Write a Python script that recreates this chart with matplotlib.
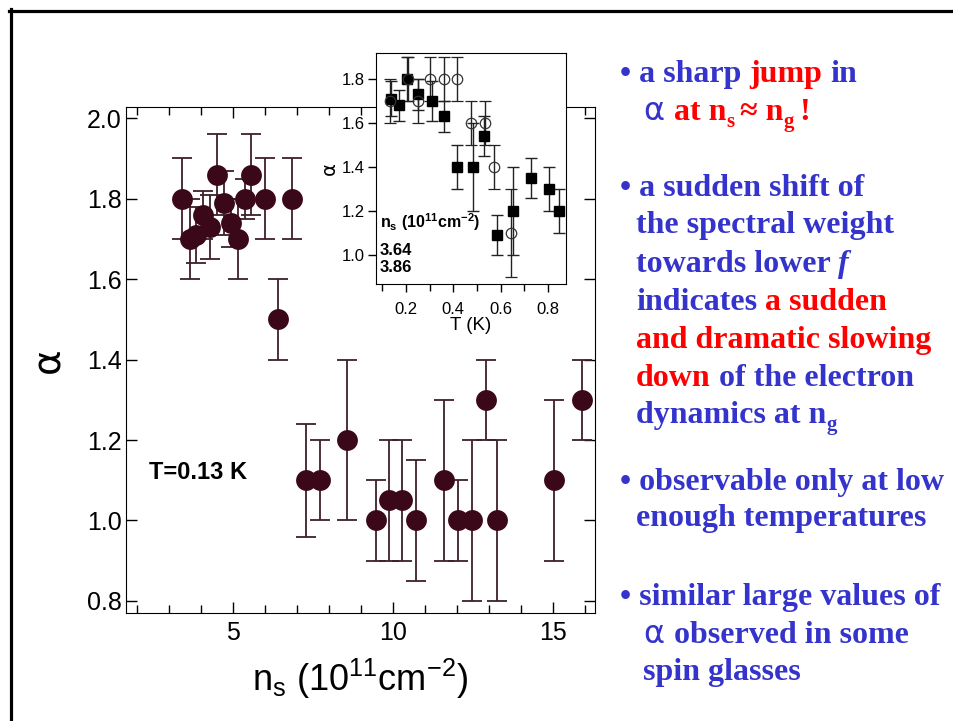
import matplotlib
matplotlib.use("Agg")
import matplotlib.pyplot as plt
import matplotlib.transforms as mtrans
from matplotlib.font_manager import FontProperties
from matplotlib.lines import Line2D
from matplotlib.ticker import MultipleLocator

# main panel: alpha vs density at T = 0.13 K
ns = [3.43, 3.66, 3.86, 4.07, 4.30, 4.52, 4.73, 4.96, 5.17, 5.37, 5.56, 6.01,
      6.43, 6.86, 7.30, 7.72, 8.58, 9.47, 9.88, 10.30, 10.74, 11.59, 12.04,
      12.48, 12.90, 13.27, 15.03, 15.92]
alpha = [1.80, 1.70, 1.71, 1.76, 1.73, 1.86, 1.79, 1.74, 1.70, 1.80, 1.86, 1.80,
         1.50, 1.80, 1.10, 1.10, 1.20, 1.00, 1.05, 1.05, 1.00, 1.10, 1.00,
         1.00, 1.30, 1.00, 1.10, 1.30]
alpha_err = [0.10, 0.10, 0.07, 0.06, 0.08, 0.10, 0.08, 0.06, 0.10, 0.05, 0.10, 0.10,
             0.10, 0.10, 0.14, 0.10, 0.20, 0.10, 0.15, 0.15, 0.15, 0.20, 0.10,
             0.20, 0.10, 0.20, 0.20, 0.10]

# inset: alpha vs temperature for two densities
T_sq = [0.135, 0.172, 0.203, 0.252, 0.309, 0.361, 0.417, 0.485, 0.529, 0.584,
        0.650, 0.728, 0.804, 0.845]
alpha_sq = [1.71, 1.68, 1.80, 1.73, 1.70, 1.63, 1.40, 1.40, 1.54, 1.09,
            1.20, 1.35, 1.30, 1.20]
err_sq = [0.08, 0.07, 0.10, 0.07, 0.09, 0.07, 0.10, 0.20, 0.09, 0.09,
          0.20, 0.09, 0.10, 0.10]
T_circ = [0.132, 0.210, 0.249, 0.302, 0.361, 0.415, 0.474, 0.532, 0.570, 0.643]
alpha_circ = [1.70, 1.80, 1.70, 1.80, 1.80, 1.80, 1.60, 1.60, 1.40, 1.10]
err_circ = [0.10, 0.10, 0.10, 0.10, 0.10, 0.10, 0.10, 0.10, 0.10, 0.20]
inset_densities = ["3.64", "3.86"]

plt.rcParams['font.family'] = ['Liberation Sans', 'DejaVu Sans']
plt.rcParams['mathtext.default'] = 'regular'

W, H = 954, 721
fig = plt.figure(figsize=(W / 100, H / 100), dpi=100)
PIX = mtrans.IdentityTransform()


def px_rect(left, top, right, bottom):
    return [left / W, 1 - bottom / H, (right - left) / W, (bottom - top) / H]


DOT = '#3a0818'
BAR = '#3e2029'

ax = fig.add_axes(px_rect(126, 107, 595, 613))
ax.errorbar(ns, alpha, yerr=alpha_err, fmt='o', ms=15, color=DOT, mec='none',
            ecolor=BAR, elinewidth=1.3, capsize=7.2, capthick=1.3, clip_on=False)
ax.set_xlim(1.666, 16.32)
ax.set_ylim(0.77, 2.028)
ax.xaxis.set_major_locator(MultipleLocator(5))
ax.xaxis.set_minor_locator(MultipleLocator(1))
ax.yaxis.set_major_locator(MultipleLocator(0.2))
ax.yaxis.set_major_formatter(plt.FormatStrFormatter('%.1f'))
ax.tick_params(which='both', direction='in', top=True, right=True, width=1)
ax.tick_params(which='major', length=8)
ax.tick_params(which='minor', length=6)
ax.tick_params(axis='x', labelsize=18, pad=6)
ax.tick_params(axis='y', labelsize=18, pad=3)
ax.set_xlabel(r'n$_s$ (10$^{11}$cm$^{-2}$)', fontsize=26, labelpad=8)
ax.set_ylabel('α', fontsize=28, family='DejaVu Sans', rotation=90)
ax.yaxis.set_label_coords(-0.125, 0.5)
ax.text(0.05, 0.265, 'T=0.13 K', transform=ax.transAxes, fontsize=17,
        fontweight='bold')

# inset
ax2 = fig.add_axes(px_rect(376, 53, 566, 284))
ax2.errorbar(T_sq, alpha_sq, yerr=err_sq, fmt='s', ms=6.5, color='black',
             ecolor='#222222', elinewidth=1, capsize=4.5, capthick=1)
ax2.errorbar(T_circ, alpha_circ, yerr=err_circ, fmt='o', ms=7.5, mfc='none',
             mec='#333333', mew=0.9, ecolor='#222222', elinewidth=1,
             capsize=4.5, capthick=1)
ax2.set_xlim(0.073, 0.876)
ax2.set_ylim(0.867, 1.918)
ax2.xaxis.set_major_locator(MultipleLocator(0.2))
ax2.xaxis.set_minor_locator(MultipleLocator(0.1))
ax2.yaxis.set_major_locator(MultipleLocator(0.2))
ax2.yaxis.set_major_formatter(plt.FormatStrFormatter('%.1f'))
ax2.tick_params(which='both', direction='out', width=1, labelsize=12)
ax2.tick_params(which='major', length=6)
ax2.tick_params(which='minor', length=5)
ax2.tick_params(axis='x', pad=7)
ax2.tick_params(axis='y', pad=2)
ax2.set_xlabel('T (K)', fontsize=13.5, labelpad=0)
ax2.set_ylabel('α', fontsize=14, family='DejaVu Sans', labelpad=2, rotation=90)
ax2.text(0.02, 0.244, r'n$_s$ (10$^{11}$cm$^{-2}$)', transform=ax2.transAxes,
         fontsize=11.5, fontweight='bold')
for k, label in enumerate(inset_densities):
    ax2.text(0.02, 0.127 - 0.074 * k, label, transform=ax2.transAxes,
             fontsize=12, fontweight='bold')

# slide frame
fig.add_artist(Line2D([9, W], [H - 10.5, H - 10.5], transform=PIX,
                      color='black', lw=2.3))
fig.add_artist(Line2D([10.5, 10.5], [0, H - 9], transform=PIX,
                      color='black', lw=2.3))

# bullet text on the right
BLUE = '#3434cc'
RED = '#ff0000'
FONTS = {
    'b': FontProperties(family='Liberation Serif', weight='bold', size=23),
    'bi': FontProperties(family='Liberation Serif', weight='bold',
                         style='italic', size=23),
    'sub': FontProperties(family='Liberation Serif', weight='bold', size=15),
    'sym': FontProperties(family='DejaVu Sans', size=23),
}
SHIFT = {'sub': -7}

renderer = fig.canvas.get_renderer()


def width_of(s, kind):
    w, _, _ = renderer.get_text_width_height_descent(s, FONTS[kind], ismath=False)
    return w


def draw_line(x, y, parts):
    # a part with a leading blank is drawn without it; the blank is measured
    # in the font of the part before
    for i, (s, color, kind) in enumerate(parts):
        s = s.lstrip() if i else s
        fig.text(x, H - y + SHIFT.get(kind, 0), s, transform=PIX, color=color,
                 fontproperties=FONTS[kind])
        if i + 1 < len(parts):
            sep = ' ' if parts[i + 1][0].startswith(' ') else ''
            x += width_of(s + sep + 'x', kind) - width_of('x', kind)


lines = [
    (620, 82, [('• a sharp', BLUE, 'b'), (' jump', RED, 'b'), (' in', BLUE, 'b')]),
    (643, 120, [('α', BLUE, 'sym'), (' at n', RED, 'b'), ('s', RED, 'sub'),
                (' ≈ n', RED, 'b'), ('g', RED, 'sub'), (' !', RED, 'b')]),
    (620, 196, [('• a sudden shift of', BLUE, 'b')]),
    (636, 233, [('the spectral weight', BLUE, 'b')]),
    (636, 272, [('towards lower', BLUE, 'b'), (' f', BLUE, 'bi')]),
    (636, 310, [('indicates', BLUE, 'b'), (' a sudden', RED, 'b')]),
    (636, 348, [('and dramatic slowing', RED, 'b')]),
    (636, 386, [('down', RED, 'b'), (' of the electron', BLUE, 'b')]),
    (636, 423, [('dynamics at n', BLUE, 'b'), ('g', BLUE, 'sub')]),
    (620, 490, [('• observable only at low', BLUE, 'b')]),
    (636, 526, [('enough temperatures', BLUE, 'b')]),
    (620, 605, [('• similar large values of', BLUE, 'b')]),
    (643, 643, [('α', BLUE, 'sym'), (' observed in some', BLUE, 'b')]),
    (643, 680, [('spin glasses', BLUE, 'b')]),
]
for x0, y0, parts in lines:
    draw_line(x0, y0, parts)

fig.savefig('out.png', dpi=100)
